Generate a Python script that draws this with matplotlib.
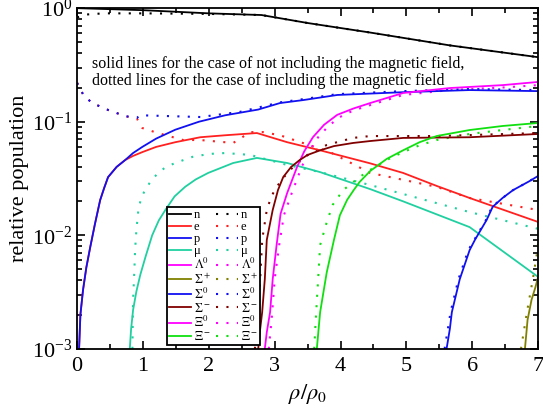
import numpy as np
import matplotlib
matplotlib.use('Agg')
import matplotlib.pyplot as plt
from matplotlib.lines import Line2D
from matplotlib.ticker import LogLocator, MultipleLocator, NullFormatter

plt.rcParams['font.family'] = ['Liberation Serif', 'DejaVu Serif']
plt.rcParams['mathtext.fontset'] = 'stix'

# --- data (x = rho/rho0) ---
# solid: without magnetic field, dotted: with magnetic field
n_xs = [0, 1, 2, 2.8, 3.5, 4.45, 5.66, 7]
n_ys = [1.0, 0.96, 0.90, 0.87, 0.74, 0.61, 0.47, 0.37]
n_xd = [0, 0.15, 0.4, 1, 2, 2.8, 3.5, 4.45, 5.66, 7]
n_yd = [0.83, 0.88, 0.90, 0.90, 0.89, 0.87, 0.74, 0.61, 0.47, 0.37]

p_xs = [0.03, 0.05, 0.09, 0.14, 0.2, 0.27, 0.35, 0.41, 0.47, 0.6, 0.73, 0.85, 0.99, 1.2, 1.49,
        1.85, 2.25, 2.75, 3.08, 3.43, 3.95, 4.95, 5.96, 7.0]
p_ys = [1e-3, 2e-3, 3.3e-3, 5.2e-3, 7.9e-3, 0.0125, 0.0204, 0.026, 0.0325, 0.04, 0.046, 0.053, 0.060,
        0.071, 0.085, 0.1, 0.114, 0.128, 0.146, 0.155, 0.172, 0.182, 0.19, 0.186]
p_xd = [0, 0.1, 0.23, 0.47, 0.73, 0.91, 0.95, 1.87, 2.47, 3.08, 3.43, 3.95, 4.95, 5.96, 7.0]
p_yd = [0.22, 0.17, 0.146, 0.127, 0.112, 0.108, 0.114, 0.11, 0.122, 0.148, 0.158, 0.175, 0.186, 0.194, 0.19]

e_xs = [0.03, 0.05, 0.09, 0.14, 0.2, 0.27, 0.35, 0.41, 0.47, 0.6, 0.73, 0.85, 0.99, 1.2, 1.49,
        1.87, 2.25, 2.73, 3.19, 3.69, 4.45, 4.95, 5.46, 5.96, 7.0]
e_ys = [1e-3, 2e-3, 3.3e-3, 5.2e-3, 7.9e-3, 0.0125, 0.0204, 0.026, 0.0325, 0.04, 0.046, 0.050, 0.054,
        0.060, 0.066, 0.073, 0.076, 0.0795, 0.066, 0.056, 0.043, 0.0354, 0.0272, 0.0213, 0.0131]
e_xd = [0, 0.1, 0.23, 0.47, 0.73, 0.91, 0.99, 1.21, 1.61, 1.87, 2.37, 2.63, 2.82, 3.08, 3.84, 4.45,
        5.46, 5.96, 7.0]
e_yd = [0.22, 0.17, 0.146, 0.127, 0.112, 0.106, 0.088, 0.08, 0.069, 0.069, 0.065, 0.081, 0.081, 0.076,
        0.054, 0.0354, 0.0267, 0.0213, 0.0167]

mu_xs = [0.80, 0.82, 0.85, 0.9, 0.96, 1.04, 1.14, 1.24, 1.34, 1.48, 1.64, 1.8, 1.99, 2.37, 2.73,
         3.19, 3.69, 4.45, 4.95, 5.96, 7.0]
mu_ys = [1e-3, 1.5e-3, 2.2e-3, 3.2e-3, 4.5e-3, 6.5e-3, 1e-2, 0.0135, 0.0167, 0.022, 0.0267, 0.031,
         0.0354, 0.0433, 0.048, 0.0433, 0.036, 0.0255, 0.0199, 0.0118, 0.0043]
mu_xd = [0.84, 0.845, 0.85, 0.87, 0.88, 0.9, 0.93, 0.97, 1.03, 1.12, 1.23, 1.35, 1.49, 1.75, 2.0,
         2.25, 2.63, 3.19, 3.69, 4.45, 5.96, 7.0]
mu_yd = [1e-3, 1.8e-3, 2.7e-3, 5e-3, 7.4e-3, 0.011, 0.0167, 0.021, 0.025, 0.03, 0.0354, 0.04, 0.0433,
         0.049, 0.052, 0.053, 0.051, 0.0416, 0.036, 0.0277, 0.016, 0.0114]

lam_xs = [2.85, 2.88, 2.93, 2.97, 3.03, 3.09, 3.19, 3.34, 3.45, 3.58, 3.75, 3.95, 4.2, 4.45, 4.95,
          5.66, 6.46, 7.0]
lam_ys = [1e-3, 1.4e-3, 2.1e-3, 4.1e-3, 8.3e-3, 0.0155, 0.0236, 0.04, 0.055, 0.073, 0.094, 0.115,
          0.131, 0.146, 0.179, 0.198, 0.21, 0.224]
lam_xd = [2.91, 2.94, 2.96, 3.0, 3.07, 3.14, 3.26, 3.41, 3.52, 3.66, 3.82, 3.99, 4.2, 4.45, 4.95,
          5.66, 6.46, 7.0]
lam_yd = [1e-3, 1.5e-3, 2e-3, 4.1e-3, 8.3e-3, 0.015, 0.0236, 0.04, 0.055, 0.073, 0.092, 0.11,
          0.126, 0.14, 0.172, 0.19, 0.2, 0.21]

sm_xs = [2.75, 2.78, 2.81, 2.85, 2.88, 2.97, 3.05, 3.13, 3.25, 3.38, 3.5, 3.69, 3.9, 4.19, 4.45,
         4.95, 5.96, 7.0]
sm_ys = [1e-3, 1.5e-3, 2.1e-3, 4.1e-3, 9.1e-3, 0.0167, 0.025, 0.0326, 0.04, 0.046, 0.051, 0.056,
         0.061, 0.065, 0.0676, 0.072, 0.073, 0.078]
sm_xd = [2.70, 2.73, 2.78, 2.81, 2.88, 2.95, 3.03, 3.15, 3.28, 3.54, 3.79, 4.19, 4.45, 5.46, 7.0]
sm_yd = [1e-3, 2.1e-3, 4.1e-3, 9.1e-3, 0.0167, 0.022, 0.0267, 0.033, 0.04, 0.053, 0.0624, 0.072,
         0.0748, 0.0748, 0.0795]

xim_xs = [3.64, 3.69, 3.79, 3.90, 3.99, 4.10, 4.2, 4.29, 4.45, 4.7, 4.95, 5.2, 5.46, 5.96, 6.46, 7.0]
xim_ys = [1e-3, 2.1e-3, 4.7e-3, 9.1e-3, 0.015, 0.0205, 0.025, 0.0295, 0.0368, 0.047, 0.056, 0.066,
          0.0748, 0.0845, 0.0917, 0.0975]
xim_xd = [3.60, 3.63, 3.66, 3.69, 3.79, 3.88, 4.04, 4.29, 4.45, 4.7, 4.95, 5.2, 5.46, 5.96, 6.46, 7.0]
xim_yd = [1e-3, 2.1e-3, 4.1e-3, 8.2e-3, 0.013, 0.0185, 0.025, 0.0326, 0.0376, 0.046, 0.054, 0.062,
          0.069, 0.078, 0.0845, 0.0917]

s0_xs = [5.61, 5.66, 5.69, 5.81, 5.96, 6.04, 6.22, 6.31, 6.46, 6.62, 6.87, 7.0]
s0_ys = [1e-3, 1.5e-3, 2.1e-3, 4.1e-3, 7.4e-3, 9.1e-3, 0.0137, 0.0178, 0.0213, 0.025, 0.030, 0.0333]
s0_xd = [5.58, 5.63, 5.67, 5.79, 5.94, 6.03, 6.21, 6.30, 6.46, 6.62, 6.87, 7.0]
s0_yd = [1e-3, 1.5e-3, 2.1e-3, 4.1e-3, 7.4e-3, 9.1e-3, 0.0137, 0.0178, 0.0213, 0.025, 0.030, 0.0335]

sp_xs = [6.80, 6.84, 6.90, 6.96, 7.0]
sp_ys = [1e-3, 1.8e-3, 2.7e-3, 3.5e-3, 4.3e-3]
sp_xd = [6.74, 6.83, 6.92, 6.99, 7.0]
sp_yd = [1e-3, 2.1e-3, 4.1e-3, 7.4e-3, 8.5e-3]

labels = ['n', 'e', 'p', 'μ', r'$\Lambda^0$', r'$\Sigma^+$', r'$\Sigma^0$', r'$\Sigma^-$', r'$\Xi^0$', r'$\Xi^-$']
colors = ['black', '#ff2020', '#1010f0', '#20d0a0', '#ff00ff', '#808000', '#1010f0', '#800000', '#ff00ff', '#10e010']
solid = [(n_xs, n_ys), (e_xs, e_ys), (p_xs, p_ys), (mu_xs, mu_ys), (lam_xs, lam_ys),
         (sp_xs, sp_ys), (s0_xs, s0_ys), (sm_xs, sm_ys), None, (xim_xs, xim_ys)]
dotted = [(n_xd, n_yd), (e_xd, e_yd), (p_xd, p_yd), (mu_xd, mu_yd), (lam_xd, lam_yd),
          (sp_xd, sp_yd), (s0_xd, s0_yd), (sm_xd, sm_yd), None, (xim_xd, xim_yd)]

DOT = (0, (1, 4))

fig = plt.figure(figsize=(5.43, 4.08), dpi=100)
ax = fig.add_axes([0.142, 0.145, 0.849, 0.835])

# dotted underneath, solid on top
for i in range(len(labels)):
    if dotted[i] is not None:
        ax.plot(dotted[i][0], dotted[i][1], color=colors[i], lw=1.5, ls=DOT)
for i in range(len(labels)):
    if solid[i] is not None:
        ax.plot(solid[i][0], solid[i][1], color=colors[i], lw=1.3)

ax.set_yscale('log')
ax.set_xlim(0, 7)
ax.set_ylim(1e-3, 1)
ax.xaxis.set_major_locator(MultipleLocator(1))
ax.xaxis.set_minor_locator(MultipleLocator(0.5))
ax.yaxis.set_major_locator(LogLocator(base=10))
ax.yaxis.set_minor_locator(LogLocator(base=10, subs=np.arange(2, 10)))
ax.yaxis.set_minor_formatter(NullFormatter())
ax.tick_params(which='both', direction='in', top=True, right=True, width=1.2, labelsize=16)
ax.tick_params(which='major', length=6)
ax.tick_params(which='minor', length=3.5)
ax.tick_params(axis='x', pad=6)
for s in ax.spines.values():
    s.set_linewidth(1.3)

ax.set_xlabel(r'$\rho/\rho_0$', fontsize=16, labelpad=4)
ax.set_ylabel('relative population', fontsize=16, labelpad=2)

ax.text(0.033, 0.86, 'solid lines for the case of not including the magnetic field,\n'
        'dotted lines for the case of including the magnetic field',
        transform=ax.transAxes, fontsize=11.5, va='top', ha='left', linespacing=1.1)

# legend: solid column then dotted column
handles = [Line2D([], [], color=c, lw=1.3) for c in colors] + \
          [Line2D([], [], color=c, lw=1.5, ls=DOT) for c in colors]
leg = ax.legend(handles, labels + labels, ncol=2, loc='lower left',
                bbox_to_anchor=(0.195, 0.012), fontsize=9, labelspacing=0.0,
                handlelength=1.8, handletextpad=0.2, columnspacing=0.4,
                borderpad=0.15, borderaxespad=0, frameon=True, fancybox=False)
leg.get_frame().set_edgecolor('black')
leg.get_frame().set_linewidth(1.3)
leg.get_frame().set_alpha(1)

fig.savefig('out.png', dpi=100)
